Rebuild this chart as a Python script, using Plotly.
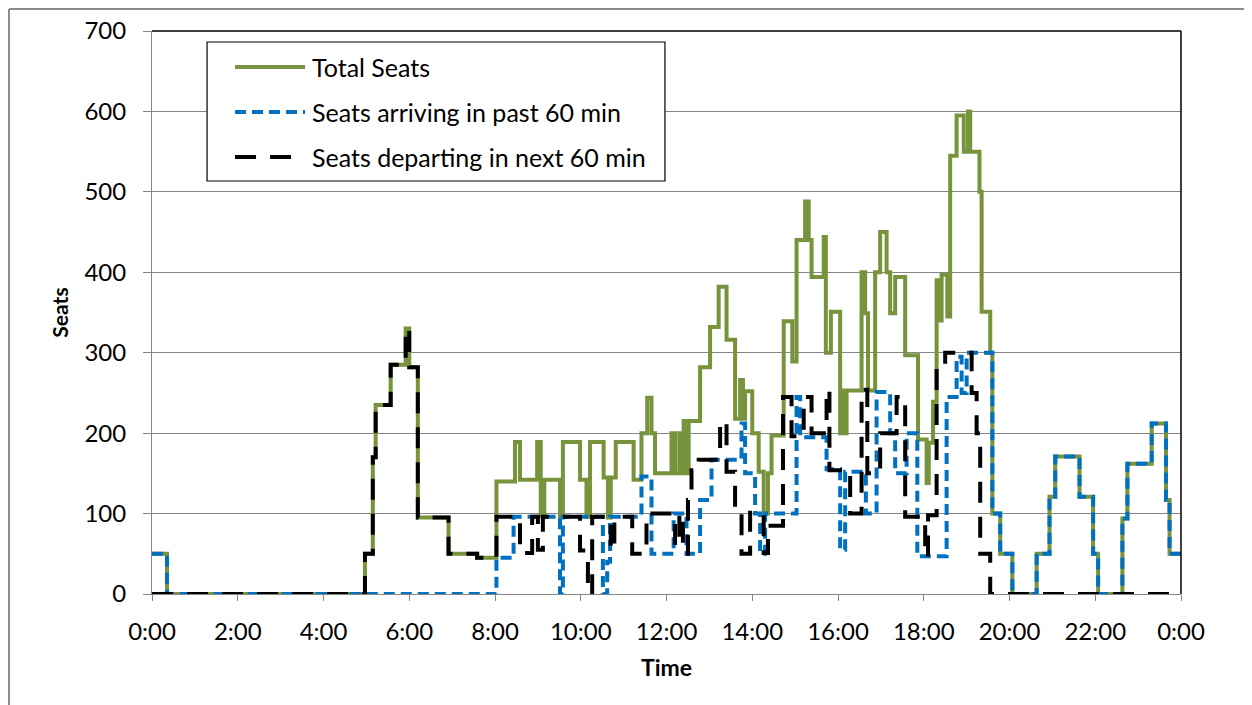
import plotly.graph_objects as go

# step data: (time, seats) pairs, value holds until next time
total_t = ["0:00", "0:21", "4:58", "5:09", "5:13", "5:34", "5:55", "6:00", "6:12", "6:55",
           "7:35", "8:02", "8:28", "8:35", "8:59", "9:04", "9:09", "9:31", "9:35", "9:59",
           "10:08", "10:13", "10:32", "10:38", "10:42", "10:49", "11:14", "11:25", "11:33", "11:39",
           "11:44", "12:07", "12:12", "12:18", "12:22", "12:24", "12:28", "12:31", "12:47", "13:01",
           "13:13", "13:24", "13:36", "13:43", "13:47", "13:50", "14:00", "14:09", "14:16", "14:22",
           "14:27", "14:44", "14:56", "15:02", "15:14", "15:19", "15:23", "15:40", "15:43", "15:50",
           "16:03", "16:06", "16:09", "16:12", "16:33", "16:38", "16:42", "16:52", "16:59", "17:08",
           "17:13", "17:20", "17:34", "17:52", "18:04", "18:07", "18:13", "18:18", "18:22", "18:25",
           "18:33", "18:37", "18:46", "18:56", "19:02", "19:05", "19:18", "19:21", "19:33", "19:36",
           "19:47", "20:04", "20:38", "20:56", "21:04", "21:38", "21:57", "22:04", "22:38", "22:45",
           "23:19", "23:39", "23:44", "24:00"]
total_v = [50, 0, 50, 170, 235, 285, 330, 282, 95, 50,
           45, 140, 189, 142, 189, 96, 142, 96, 189, 142,
           96, 189, 145, 95, 145, 189, 142, 200, 244, 200,
           150, 200, 150, 200, 150, 215, 150, 215, 282, 332,
           382, 316, 218, 266, 218, 252, 200, 152, 100, 150,
           197, 339, 289, 440, 488, 440, 394, 444, 300, 351,
           200, 253, 200, 253, 400, 349, 253, 400, 450, 400,
           349, 394, 297, 192, 138, 188, 239, 390, 340, 397,
           345, 545, 595, 550, 600, 550, 500, 351, 300, 100,
           50, 0, 50, 121, 171, 121, 50, 0, 94, 162,
           212, 117, 50, 50]

arr_t = ["0:00", "0:21", "8:02", "8:26", "9:31", "9:35", "10:31", "10:37", "10:41", "11:25",
         "11:39", "12:10", "12:28", "12:47", "13:03", "13:45", "13:50", "14:04", "14:11", "14:18",
         "15:02", "15:07", "15:44", "16:03", "16:10", "16:39", "16:54", "17:13", "17:20", "17:36",
         "17:51", "18:32", "18:46", "18:53", "19:00", "19:36", "19:47", "20:04", "20:38", "20:56",
         "21:04", "21:38", "21:57", "22:04", "22:38", "22:45", "23:19", "23:39", "23:44", "24:00"]
arr_v = [50, 0, 45, 96, 0, 96, 0, 40, 96, 146,
         50, 100, 50, 117, 167, 212, 150, 100, 50, 100,
         245, 195, 155, 55, 152, 100, 251, 200, 150, 200,
         47, 245, 295, 250, 300, 100, 50, 0, 50, 121,
         171, 121, 50, 0, 94, 162, 212, 117, 50, 50]

dep_t = ["0:00", "4:58", "5:09", "5:13", "5:34", "5:55", "6:00", "6:12", "6:55", "7:35",
         "8:02", "8:35", "8:52", "9:00", "9:07", "9:59", "10:10", "10:16", "10:42", "10:47",
         "11:12", "11:32", "12:12", "12:18", "12:23", "12:30", "12:35", "12:45", "13:15", "13:24",
         "13:36", "13:45", "13:57", "14:16", "14:22", "14:43", "14:55", "15:12", "15:23", "15:44",
         "15:48", "16:17", "16:33", "16:41", "16:59", "17:22", "17:34", "18:02", "18:06", "18:18",
         "18:30", "19:07", "19:14", "19:19", "19:33", "24:00"]
dep_v = [0, 50, 170, 235, 285, 330, 282, 95, 50, 45,
         96, 51, 96, 55, 96, 54, 0, 96, 55, 96,
         50, 100, 60, 100, 50, 117, 154, 167, 214, 152,
         105, 50, 101, 51, 85, 245, 196, 245, 200, 254,
         154, 100, 254, 150, 200, 245, 96, 46, 98, 283,
         300, 250, 200, 50, 0, 0]

tick_vals = [0, 2, 4, 6, 8, 10, 12, 14, 16, 18, 20, 22, 24]
tick_text = ["0:00", "2:00", "4:00", "6:00", "8:00", "10:00", "12:00", "14:00",
             "16:00", "18:00", "20:00", "22:00", "0:00"]

series_names = ["Total Seats", "Seats arriving in past 60 min", "Seats departing in next 60 min"]
series_colors = ["#77933C", "#0070C0", "#000000"]
series_dash = ["solid", "11px,6px", "21px,14px"]


def hours(ts):
    out = []
    for s in ts:
        h, m = s.split(":")
        out.append(int(h) + int(m) / 60)
    return out


FONT = "Lato"
GRID = "#868686"

fig = go.Figure()
for (t, v), name, col, dash in zip([(total_t, total_v), (arr_t, arr_v), (dep_t, dep_v)],
                                   series_names, series_colors, series_dash):
    fig.add_trace(go.Scatter(x=hours(t), y=v, mode="lines", line_shape="hv",
                             name=name, showlegend=False,
                             line=dict(color=col, width=4, dash=dash)))

fig.update_xaxes(range=[0, 24], tickvals=tick_vals, ticktext=tick_text,
                 showgrid=False, zeroline=False, automargin=False,
                 showline=True, linecolor=GRID, linewidth=1,
                 ticks="outside", ticklen=6, tickcolor=GRID,
                 ticklabelstandoff=10,
                 tickfont=dict(family=FONT, size=24, color="black"),
                 title=dict(text="<b>Time</b>", font=dict(family=FONT, size=23, color="black"),
                            standoff=16))
fig.update_yaxes(range=[0, 700], dtick=100,
                 showgrid=True, gridcolor=GRID, gridwidth=1, zeroline=False, automargin=False,
                 showline=True, linecolor=GRID, linewidth=1,
                 ticks="outside", ticklen=8, tickcolor=GRID,
                 ticklabelstandoff=12,
                 tickfont=dict(family=FONT, size=24, color="black"),
                 title=dict(text="<b>Seats</b>", font=dict(family=FONT, size=21, color="black"),
                            standoff=10))

# black frame on top and right of plot area
fig.add_shape(type="line", xref="paper", yref="paper", x0=0, x1=1, y0=1, y1=1,
              line=dict(color="black", width=1.5))
fig.add_shape(type="line", xref="paper", yref="paper", x0=1, x1=1, y0=0, y1=1,
              line=dict(color="black", width=1.5))
# grey outer chart frame (top and left edges)
fig.add_shape(type="line", xref="paper", yref="paper", x0=-0.139, x1=1.1, y0=1.039, y1=1.039,
              line=dict(color="#8c8c8c", width=2))
fig.add_shape(type="line", xref="paper", yref="paper", x0=-0.139, x1=-0.139, y0=-0.25, y1=1.039,
              line=dict(color="#8c8c8c", width=2))

# legend box drawn by hand so the line samples are as long as in the original
fig.add_shape(type="rect", xref="paper", yref="paper", x0=0.0535, x1=0.4985, y0=0.7336, y1=0.9805,
              line=dict(color="black", width=1.2), fillcolor="white", layer="above")
legend_rows = [0.9361, 0.8561, 0.7762]
for name, col, dash, yy in zip(series_names, series_colors, series_dash, legend_rows):
    fig.add_shape(type="line", xref="paper", yref="paper", x0=0.0807, x1=0.1487, y0=yy, y1=yy,
                  line=dict(color=col, width=4, dash=dash), layer="above")
    fig.add_annotation(x=0.1535, y=yy, xref="paper", yref="paper", text=name,
                       showarrow=False, xanchor="left", yanchor="middle",
                       font=dict(family=FONT, size=25, color="black"))

fig.update_layout(
    width=1244, height=697,
    margin=dict(l=144, r=71, t=23, b=111, autoexpand=False),
    plot_bgcolor="white", paper_bgcolor="white",
    font=dict(family=FONT, color="black"),
)

fig.write_html("out.html")
